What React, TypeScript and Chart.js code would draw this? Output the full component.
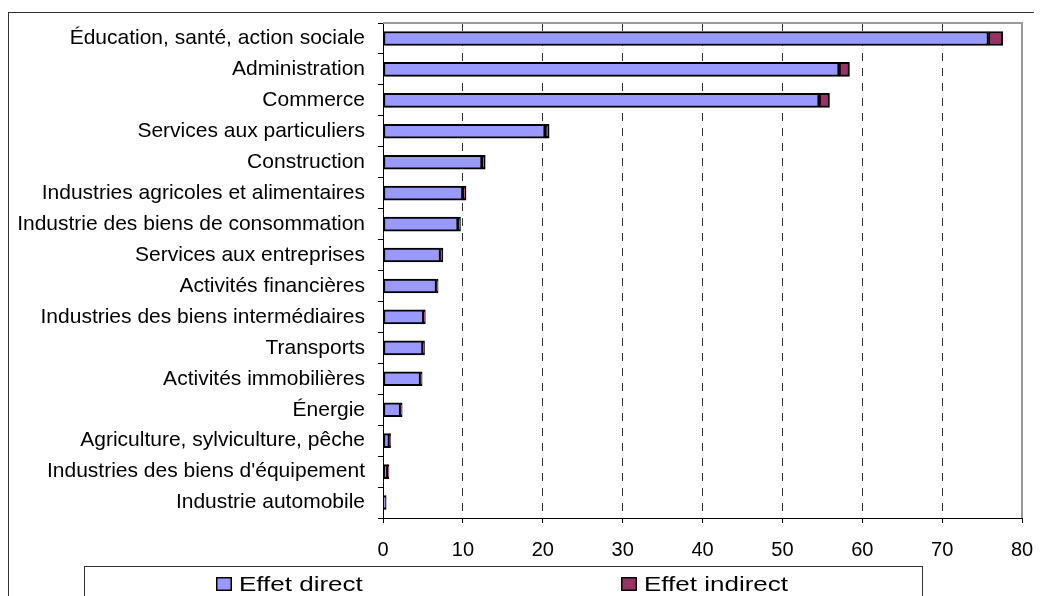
import React, { useEffect, useRef } from "react";
import { Chart, registerables } from "chart.js";

Chart.register(...registerables);

const categories = [
  "Éducation, santé, action sociale",
  "Administration",
  "Commerce",
  "Services aux particuliers",
  "Construction",
  "Industries agricoles et alimentaires",
  "Industrie des biens de consommation",
  "Services aux entreprises",
  "Activités financières",
  "Industries des biens intermédiaires",
  "Transports",
  "Activités immobilières",
  "Énergie",
  "Agriculture, sylviculture, pêche",
  "Industries des biens d'équipement",
  "Industrie automobile",
];

const directValues = [75.8, 57.1, 54.6, 20.3, 12.4, 10.0, 9.4, 7.2, 6.7, 5.1, 5.0, 4.7, 2.2, 0.8, 0.6, 0.3];
const indirectValues = [1.8, 1.3, 1.3, 0.5, 0.4, 0.4, 0.3, 0.3, 0.2, 0.2, 0.2, 0.2, 0.2, 0.15, 0.15, 0.1];

const seriesNames = ["Effet direct", "Effet indirect"];
const seriesColors = ["#9999FF", "#993366"];

const xMin = 0;
const xMax = 80;
const xStep = 10;

const FONT = '"Liberation Sans", Arial, sans-serif';

const decorPlugin = {
  id: "decor",
  afterDraw(chart: any) {
    const ctx = chart.ctx;
    const a = chart.chartArea;
    ctx.save();
    // outer frame
    ctx.strokeStyle = "#333";
    ctx.lineWidth = 1;
    ctx.strokeRect(0.5, 4.5, 1100, 700);
    // plot area top / right border
    ctx.strokeStyle = "#999";
    ctx.lineWidth = 2;
    ctx.beginPath();
    ctx.moveTo(a.left, a.top);
    ctx.lineTo(a.right, a.top);
    ctx.lineTo(a.right, a.bottom);
    ctx.stroke();
    // legend box
    ctx.strokeStyle = "#333";
    ctx.lineWidth = 1;
    ctx.strokeRect(76.5, 558.5, 838, 60);
    const items = [
      { x: 208, label: seriesNames[0], color: seriesColors[0] },
      { x: 613, label: seriesNames[1], color: seriesColors[1] },
    ];
    for (const it of items) {
      ctx.fillStyle = it.color;
      ctx.fillRect(it.x, 569, 16, 14);
      ctx.strokeStyle = "#000";
      ctx.lineWidth = 1.5;
      ctx.strokeRect(it.x + 0.75, 569.75, 14.5, 12.5);
      ctx.save();
      ctx.fillStyle = "#000";
      ctx.font = `20px ${FONT}`;
      ctx.textBaseline = "alphabetic";
      ctx.translate(it.x + 23, 583);
      ctx.scale(1.3, 1);
      ctx.fillText(it.label, 0, 0);
      ctx.restore();
    }
    ctx.restore();
  },
};

export default function App() {
  const ref = useRef<HTMLCanvasElement>(null);
  useEffect(() => {
    if (!ref.current) return;
    const chart = new Chart(ref.current, {
      type: "bar",
      data: {
        labels: categories,
        datasets: [
          {
            label: seriesNames[0],
            data: directValues,
            backgroundColor: seriesColors[0],
            borderColor: "#000",
            borderWidth: 2,
            borderSkipped: false,
            barThickness: 14,
          },
          {
            label: seriesNames[1],
            data: indirectValues,
            backgroundColor: seriesColors[1],
            borderColor: "#000",
            borderWidth: 2,
            borderSkipped: false,
            barThickness: 14,
          },
        ],
      },
      options: {
        indexAxis: "y",
        responsive: false,
        animation: false,
        devicePixelRatio: 1,
        layout: { padding: { top: 15, right: 20, left: 0, bottom: 0 } },
        plugins: {
          legend: { display: false },
          tooltip: { enabled: false },
        },
        scales: {
          x: {
            stacked: true,
            min: xMin,
            max: xMax,
            ticks: {
              stepSize: xStep,
              color: "#000",
              font: { family: FONT, size: 20 },
              padding: 15,
              maxRotation: 0,
            },
            grid: {
              color: (c: any) =>
                c.tick && (c.tick.value === xMin || c.tick.value === xMax) ? "rgba(0,0,0,0)" : "#333",
              lineWidth: 1,
              drawTicks: true,
              tickLength: 5,
              tickColor: "#000",
            },
            border: { display: true, color: "#000", width: 1, dash: [8, 7] },
            afterFit: (s: any) => {
              s.height = 78;
              s.paddingLeft = 0;
              s.paddingRight = 0;
            },
          },
          y: {
            stacked: true,
            ticks: {
              color: "#000",
              font: { family: FONT, size: 21 },
              padding: 13,
              autoSkip: false,
            },
            grid: {
              drawOnChartArea: false,
              drawTicks: true,
              tickLength: 5,
              tickColor: "#000",
              offset: true,
            },
            border: { display: true, color: "#000", width: 1 },
            afterFit: (s: any) => {
              s.width = 375;
              s.paddingTop = 0;
              s.paddingBottom = 0;
            },
          },
        },
      },
      plugins: [decorPlugin],
    } as any);
    return () => chart.destroy();
  }, []);
  return (
    <div style={{ width: 1034, height: 588 }}>
      <canvas ref={ref} width={1034} height={588} style={{ display: "block" }} />
    </div>
  );
}
